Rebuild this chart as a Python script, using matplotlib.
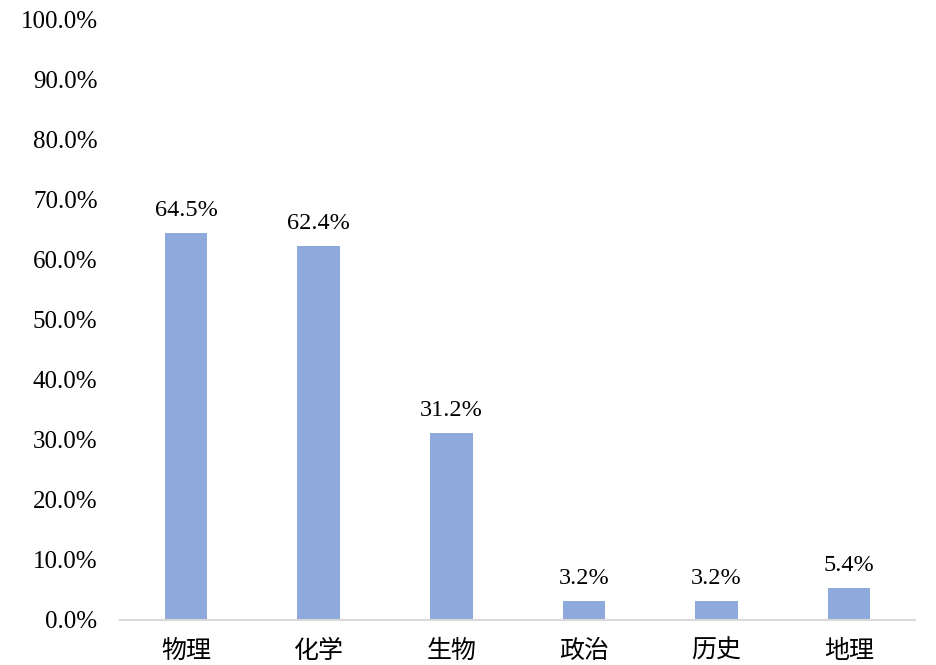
import matplotlib.pyplot as plt
from matplotlib.ticker import FuncFormatter

# 各科目比例
subjects = ['物理', '化学', '生物', '政治', '历史', '地理']
ratios = [64.5, 62.4, 31.2, 3.2, 3.2, 5.4]

plt.rcParams['font.family'] = ['Liberation Serif', 'Noto Sans CJK SC']

fig = plt.figure(figsize=(9.36, 6.65), dpi=100)
ax = fig.add_axes([0.128, 0.0677, 0.850, 0.9023])

bars = ax.bar(subjects, ratios, width=0.32, color='#8EA9DB')

for b, v in zip(bars, ratios):
    ax.text(b.get_x() + b.get_width() / 2, v + 2.0, f'{v:.1f}%',
            ha='center', va='bottom', fontsize=17.5)

ax.set_ylim(0, 100)
ax.set_xlim(-0.5, len(subjects) - 0.5)
ax.set_yticks(range(0, 101, 10))
ax.yaxis.set_major_formatter(FuncFormatter(lambda y, p: f'{y:.1f}%'))
ax.tick_params(axis='y', length=0, labelsize=18, pad=16)
ax.tick_params(axis='x', length=0, labelsize=18, pad=13)
for lab in ax.get_xticklabels():
    lab.set_family(['Noto Sans CJK SC'])

for s in ['top', 'right', 'left']:
    ax.spines[s].set_visible(False)
ax.spines['bottom'].set_color('#D9D9D9')
ax.spines['bottom'].set_linewidth(1.5)

plt.savefig('out.png', dpi=100)
